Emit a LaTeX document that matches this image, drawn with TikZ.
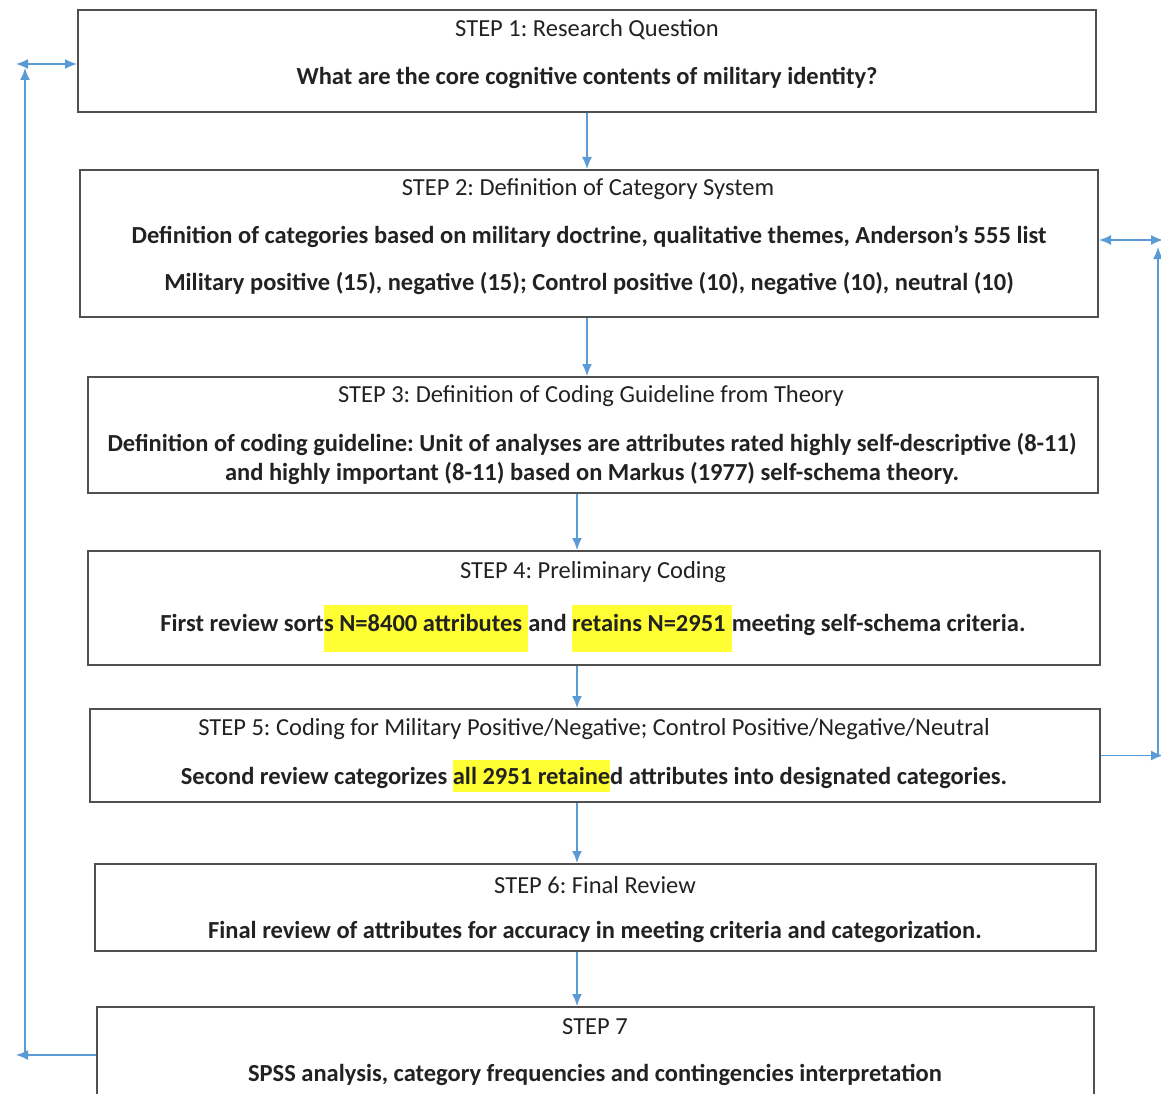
\documentclass[tikz,border=0pt]{standalone}
\usepackage{fontspec}
\setmainfont{Carlito}
\usetikzlibrary{arrows.meta}
\definecolor{boxgray}{HTML}{505050}
\definecolor{flowblue}{HTML}{5B9BD5}
\definecolor{hlyellow}{HTML}{FFFF33}
\definecolor{txtgray}{HTML}{222222}
\frenchspacing
\newcommand{\hlbig}[1]{{\setlength{\fboxsep}{0pt}\colorbox{hlyellow}{\rule[-21pt]{0pt}{47pt}#1}}}
\newcommand{\hlsmall}[1]{{\setlength{\fboxsep}{0pt}\colorbox{hlyellow}{\rule[-7pt]{0pt}{32pt}#1}}}
\begin{document}
\begin{tikzpicture}[x=1pt, y=-1pt,
	box/.style={draw=boxgray, line width=2pt, inner sep=0pt},
	flow/.style={draw=flowblue, line width=1.6pt, -{Latex[length=12pt,width=10pt]}},
	twoway/.style={flow, {Latex[length=12pt,width=10pt]}-{Latex[length=12pt,width=10pt]}},
	steptitle/.style={text=txtgray, font=\fontsize{24.5}{29}\selectfont},
	stepbody/.style={text=txtgray, font=\fontsize{24.5}{29}\selectfont\bfseries, align=center}]
	\clip (0,0) rectangle (1161,1094);
	\fill[white] (0,0) rectangle (1161,1094);
	% step boxes
	\node[box, minimum width=1018pt, minimum height=102pt] (s1) at (587,61) {};
	\node[box, minimum width=1018pt, minimum height=147pt] (s2) at (589,243.5) {};
	\node[box, minimum width=1010pt, minimum height=116pt] (s3) at (593,435) {};
	\node[box, minimum width=1012pt, minimum height=114pt] (s4) at (594,608) {};
	\node[box, minimum width=1010pt, minimum height=93pt] (s5) at (595,755.5) {};
	\node[box, minimum width=1001pt, minimum height=87pt] (s6) at (595.5,907.5) {};
	\node[box, minimum width=997pt, minimum height=96pt] (s7) at (595.5,1055) {};
	% texts
	\node[steptitle] (t1) at (587,30) {STEP 1: Research Question};
	\node[stepbody] (b1) at (587,78) {What are the core cognitive contents of military identity?};
	\node[steptitle] (t2) at (588,189) {STEP 2: Definition of Category System};
	\node[stepbody] (b2) at (589,260.5) {Definition of categories based on military doctrine, qualitative themes, Anderson’s 555 list\\[18pt]Military positive (15), negative (15); Control positive (10), negative (10), neutral (10)};
	\node[steptitle] (t3) at (591,396) {STEP 3: Definition of Coding Guideline from Theory};
	\node[stepbody] (b3) at (592,459) {Definition of coding guideline: Unit of analyses are attributes rated highly self-descriptive (8-11)\\and highly important (8-11) based on Markus (1977) self-schema theory.};
	\node[steptitle] (t4) at (593,572) {STEP 4: Preliminary Coding};
	\node[stepbody, anchor=base] (b4) at (593,631) {First review sort\hlbig{s N=8400 attributes\hspace{0.25em}}and \hlbig{retains N=2951\hspace{0.25em}}meeting self-schema criteria.};
	\node[steptitle] (t5) at (594,729) {STEP 5: Coding for Military Positive/Negative; Control Positive/Negative/Neutral};
	\node[stepbody, anchor=base] (b5) at (594,784.5) {Second review categorizes \hlsmall{all 2951 retaine}d attributes into designated categories.};
	\node[steptitle] (t6) at (595,885) {STEP 6: Final Review};
	\node[stepbody] (b6) at (595,932) {Final review of attributes for accuracy in meeting criteria and categorization.};
	\node[steptitle] (t7) at (595,1027) {STEP 7};
	\node[stepbody] (b7) at (595,1075) {SPSS analysis, category frequencies and contingencies interpretation};
	% downward arrows
	\draw[flow] (s1.south -| 587,0) -- (s2.north -| 587,0);
	\draw[flow] (s2.south -| 587,0) -- (s3.north -| 587,0);
	\draw[flow] (s3.south -| 577,0) -- (s4.north -| 577,0);
	\draw[flow] (s4.south -| 577,0) -- (s5.north -| 577,0);
	\draw[flow] (s5.south -| 577,0) -- (s6.north -| 577,0);
	\draw[flow] (s6.south -| 577,0) -- (s7.north -| 577,0);
	% feedback loops
	\coordinate (lbend) at (16,1055);
	\coordinate (lfoot) at (25,1055);
	\coordinate (lhead) at (25,68);
	\coordinate (lend) at (16,64);
	\draw[flow] (s7.west) -- (lbend);
	\draw[flow] (lfoot) -- (lhead);
	\draw[twoway] (lend) -- (lend -| s1.west);
	\coordinate (rend) at (1163,755.5);
	\coordinate (rfoot) at (1158,755.5);
	\coordinate (rhead) at (1158,247);
	\coordinate (rtop) at (1163,240);
	\draw[flow] (s5.east) -- (rend);
	\draw[flow] (rfoot) -- (rhead);
	\draw[twoway] (s2.east |- rtop) -- (rtop);
\end{tikzpicture}
\end{document}
